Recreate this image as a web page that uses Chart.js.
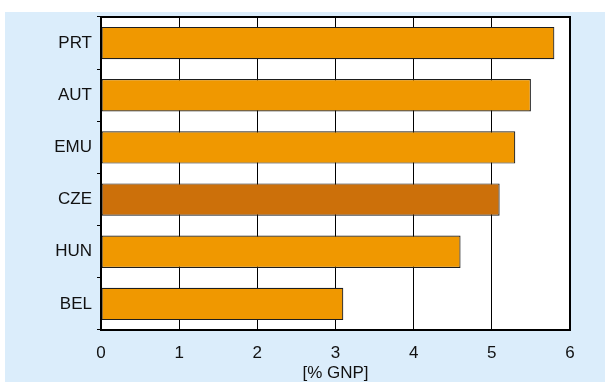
<!DOCTYPE html>
<html>
<head>
<meta charset="utf-8">
<script src="https://cdn.jsdelivr.net/npm/chart.js@4"></script>
<style>
  html, body { margin: 0; padding: 0; background: #ffffff; }
  body { width: 605px; height: 382px; position: relative; overflow: hidden; }
  #panel { position: absolute; left: 5px; top: 12px; width: 600px; height: 370px; background: #dbedfb; }
  canvas { display: block; }
</style>
</head>
<body>
<div id="panel"><canvas id="c" width="600" height="370"></canvas></div>
<script>
// Countries, top to bottom
const countries = ['PRT', 'AUT', 'EMU', 'CZE', 'HUN', 'BEL'];
// Expenditure in % of GNP
const values = [5.8, 5.5, 5.3, 5.1, 4.6, 3.1];
// Highlighted country gets a darker shade
const highlight = 'CZE';
const xTicks = [0, 1, 2, 3, 4, 5, 6];
const xTitle = '[% GNP]';

const barColors = countries.map(c => c === highlight ? '#cc700a' : '#f09800');

// White plot area with a heavy black frame
const frame = {
  id: 'frame',
  beforeDraw(chart) {
    const a = chart.chartArea, ctx = chart.ctx;
    ctx.save();
    ctx.fillStyle = '#ffffff';
    ctx.fillRect(a.left, a.top, a.right - a.left, a.bottom - a.top);
    ctx.restore();
  },
  afterDraw(chart) {
    const a = chart.chartArea, ctx = chart.ctx;
    ctx.save();
    ctx.strokeStyle = '#000000';
    ctx.lineWidth = 2;
    ctx.strokeRect(a.left, a.top, a.right - a.left, a.bottom - a.top);
    ctx.restore();
  }
};

const font = { family: '"Liberation Sans", Arial, sans-serif', size: 17 };

new Chart(document.getElementById('c'), {
  type: 'bar',
  data: {
    labels: countries,
    datasets: [{
      data: values,
      backgroundColor: barColors,
      borderColor: '#1e1e1e',
      borderWidth: 1.2,
      borderSkipped: false,
      categoryPercentage: 1,
      barPercentage: 0.62
    }]
  },
  options: {
    indexAxis: 'y',
    responsive: false,
    animation: false,
    layout: { padding: { left: 0, right: 35, top: 5, bottom: 0 } },
    plugins: { legend: { display: false }, tooltip: { enabled: false } },
    scales: {
      x: {
        min: 0, max: 6,
        afterBuildTicks(scale) { scale.ticks = xTicks.map(v => ({ value: v })); },
        afterFit(scale) {
          scale.height = 52;
          scale.paddingLeft = 0; scale.paddingRight = 0;
        },
        grid: { color: '#000000', lineWidth: 1, drawTicks: false },
        border: { display: false },
        ticks: { color: '#111111', font, padding: 13 },
        title: { display: true, text: xTitle, color: '#111111', font, padding: { top: 0, bottom: -2 } }
      },
      y: {
        afterFit(scale) {
          scale.width = 96;
          scale.paddingTop = 0; scale.paddingBottom = 0;
        },
        grid: { offset: true, drawOnChartArea: false, color: '#000000', tickLength: 4 },
        border: { display: false },
        ticks: { color: '#111111', font, padding: 5 }
      }
    }
  },
  plugins: [frame]
});
</script>
</body>
</html>
